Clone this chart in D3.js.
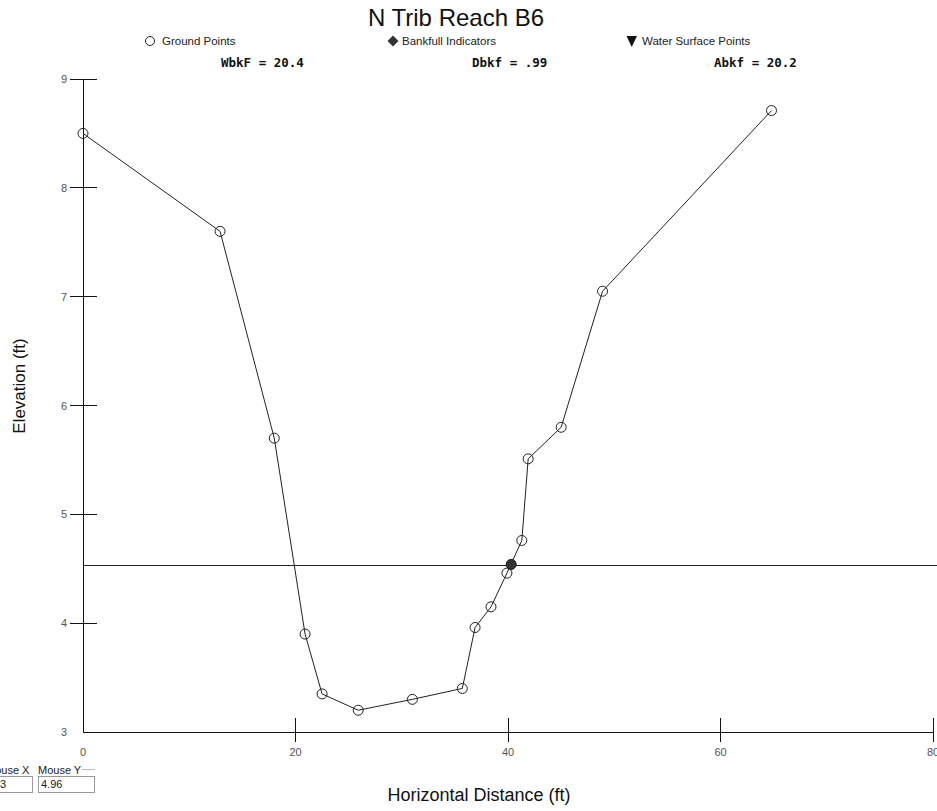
<!DOCTYPE html>
<html>
<head>
<meta charset="utf-8">
<script src="https://cdn.jsdelivr.net/npm/d3@7"></script>
<style>
  html, body { margin: 0; padding: 0; background: #fff; }
  svg { display: block; }
</style>
</head>
<body>
<svg id="chart" width="937" height="811"></svg>
<script>
// Cross-section survey: station (ft) vs. elevation (ft)
const stations   = [0, 12.9, 18.0, 20.9, 22.5, 25.9, 31.0, 35.7, 36.9, 38.4, 39.9, 41.3, 41.9, 45.0, 48.9, 64.8];
const elevations = [8.50, 7.60, 5.70, 3.90, 3.35, 3.20, 3.30, 3.40, 3.96, 4.15, 4.46, 4.76, 5.51, 5.80, 7.05, 8.71];

// Bankfull indicator and bankfull stage
const bankfullStation = [40.3];
const bankfullElev    = [4.54];
const bankfullStage   = 4.53;

const xTicks = [0, 20, 40, 60, 80];
const yTicks = [3, 4, 5, 6, 7, 8, 9];

const legendLabels = ["Ground Points", "Bankfull Indicators", "Water Surface Points"];
const statLabels   = ["WbkF = 20.4", "Dbkf = .99", "Abkf = 20.2"];

const svg = d3.select("#chart");

const x = d3.scaleLinear().domain([0, 80]).range([83, 933]);
const y = d3.scaleLinear().domain([3, 9]).range([732, 79]);

// Title
svg.append("text")
  .attr("x", 456).attr("y", 26)
  .attr("text-anchor", "middle")
  .attr("font-family", "Liberation Sans, Arial, sans-serif")
  .attr("font-size", 24)
  .attr("fill", "#111")
  .text("N Trib Reach B6");

// Legend
const lg = svg.append("g")
  .attr("font-family", "Liberation Sans, Arial, sans-serif")
  .attr("font-size", 11.5)
  .attr("fill", "#222");
lg.append("circle").attr("cx", 150).attr("cy", 41).attr("r", 4.5)
  .attr("fill", "none").attr("stroke", "#222").attr("stroke-width", 1);
lg.append("text").attr("x", 162).attr("y", 45).text(legendLabels[0]);
lg.append("path").attr("d", "M393,35.5 L398.5,41 L393,46.5 L387.5,41 Z").attr("fill", "#333");
lg.append("text").attr("x", 402).attr("y", 45).text(legendLabels[1]);
lg.append("path").attr("d", "M626.5,36 L637,36 L631.75,47 Z").attr("fill", "#111");
lg.append("text").attr("x", 642).attr("y", 45).text(legendLabels[2]);

// Bankfull statistics
const statX = [221, 472, 714];
svg.append("g")
  .attr("font-family", "DejaVu Sans Mono, monospace")
  .attr("font-weight", "bold")
  .attr("font-size", 12.5)
  .attr("fill", "#111")
  .selectAll("text").data(statLabels).join("text")
  .attr("x", (d, i) => statX[i]).attr("y", 67)
  .text(d => d);

// Axes
const axes = svg.append("g").attr("stroke", "#111").attr("stroke-width", 1).attr("shape-rendering", "crispEdges");
axes.append("line").attr("x1", x(0)).attr("x2", x(0)).attr("y1", y(9)).attr("y2", y(3));
axes.append("line").attr("x1", x(0)).attr("x2", x(80)).attr("y1", y(3)).attr("y2", y(3));

axes.selectAll("line.ytick").data(yTicks.filter(d => d > 3)).join("line")
  .attr("class", "ytick")
  .attr("x1", x(0) - 13).attr("x2", x(0) + 14)
  .attr("y1", d => y(d)).attr("y2", d => y(d));

axes.selectAll("line.xtick").data(xTicks.filter(d => d > 0)).join("line")
  .attr("class", "xtick")
  .attr("x1", d => x(d)).attr("x2", d => x(d))
  .attr("y1", y(3) - 14).attr("y2", y(3) + 10);

const tickText = svg.append("g")
  .attr("font-family", "Liberation Sans, Arial, sans-serif")
  .attr("font-size", 11)
  .attr("fill", "#555");
tickText.selectAll("text.yl").data(yTicks).join("text")
  .attr("class", "yl")
  .attr("x", 67).attr("y", d => y(d) + 4)
  .attr("text-anchor", "end")
  .text(d => d);
tickText.selectAll("text.xl").data(xTicks).join("text")
  .attr("class", "xl")
  .attr("x", d => x(d)).attr("y", 756)
  .attr("text-anchor", "middle")
  .text(d => d);

// Axis titles
svg.append("text")
  .attr("transform", "translate(25,386) rotate(-90)")
  .attr("text-anchor", "middle")
  .attr("font-family", "Liberation Sans, Arial, sans-serif")
  .attr("font-size", 17)
  .attr("fill", "#111")
  .text("Elevation (ft)");
svg.append("text")
  .attr("x", 479).attr("y", 801)
  .attr("text-anchor", "middle")
  .attr("font-family", "Liberation Sans, Arial, sans-serif")
  .attr("font-size", 18)
  .attr("fill", "#111")
  .text("Horizontal Distance (ft)");

// Bankfull stage line
svg.append("line")
  .attr("x1", x(0)).attr("x2", 937)
  .attr("y1", y(bankfullStage)).attr("y2", y(bankfullStage))
  .attr("stroke", "#222").attr("stroke-width", 1)
  .attr("shape-rendering", "crispEdges");

// Ground profile
const pts = stations.map((s, i) => [s, elevations[i]]);
svg.append("path")
  .datum(pts)
  .attr("d", d3.line().x(d => x(d[0])).y(d => y(d[1])))
  .attr("fill", "none")
  .attr("stroke", "#222")
  .attr("stroke-width", 1);

svg.append("g").selectAll("circle").data(pts).join("circle")
  .attr("cx", d => x(d[0])).attr("cy", d => y(d[1]))
  .attr("r", 5)
  .attr("fill", "none")
  .attr("stroke", "#222")
  .attr("stroke-width", 1);

// Bankfull indicator
svg.append("g").selectAll("circle").data(bankfullStation.map((s, i) => [s, bankfullElev[i]])).join("circle")
  .attr("cx", d => x(d[0])).attr("cy", d => y(d[1]))
  .attr("r", 5)
  .attr("fill", "#333")
  .attr("stroke", "#111");

// Cursor readout panel (partially visible at the window edge)
const ro = svg.append("g")
  .attr("font-family", "Liberation Sans, Arial, sans-serif")
  .attr("font-size", 11)
  .attr("fill", "#222");
ro.append("text").attr("x", -14).attr("y", 774).text("Mouse X");
ro.append("text").attr("x", 38).attr("y", 774).text("Mouse Y");
ro.append("line").attr("x1", 82).attr("x2", 95).attr("y1", 769.5).attr("y2", 769.5)
  .attr("stroke", "#bbb").attr("shape-rendering", "crispEdges");
ro.append("rect").attr("x", -20).attr("y", 776.5).attr("width", 52).attr("height", 16)
  .attr("fill", "none").attr("stroke", "#999").attr("shape-rendering", "crispEdges");
ro.append("rect").attr("x", 38.5).attr("y", 776.5).attr("width", 56).attr("height", 16)
  .attr("fill", "none").attr("stroke", "#999").attr("shape-rendering", "crispEdges");
ro.append("text").attr("x", -6).attr("y", 788).text("43");
ro.append("text").attr("x", 41).attr("y", 788).text("4.96");
</script>
</body>
</html>
